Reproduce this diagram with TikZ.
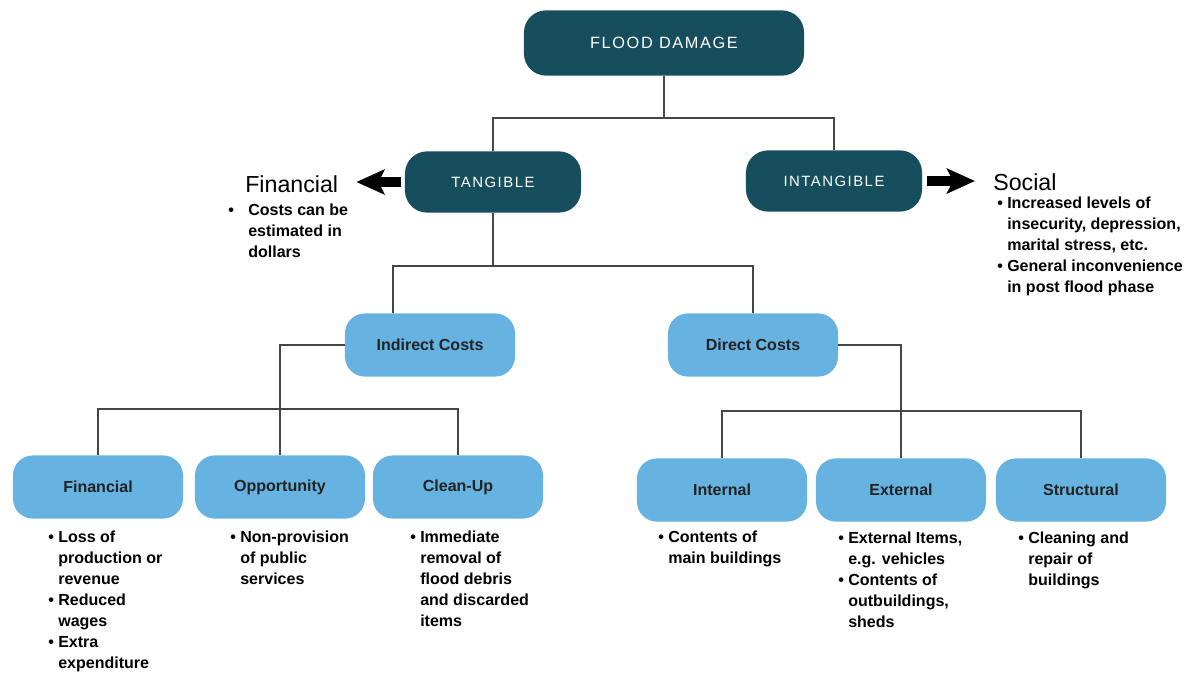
\documentclass[tikz,border=0pt]{standalone}
\usepackage{fontspec}
\setmainfont{Liberation Sans}
\newfontfamily\spacedcaps[LetterSpace=10]{Liberation Sans}
\usepackage{tikz}
\usetikzlibrary{arrows.meta, positioning}
\definecolor{darkteal}{RGB}{22, 78, 94}
\definecolor{skyblue}{RGB}{102, 178, 225}
\definecolor{linkgray}{RGB}{70, 70, 70}
\definecolor{labelgray}{RGB}{35, 35, 35}
\newcommand{\bitem}[1][0.25cm]{\makebox[#1][l]{\textbullet}}
\newcommand{\bhang}[1][0.25cm]{\hspace*{#1}}
\tikzset{
  link/.style={draw=linkgray, line width=1.1pt},
  blockarrow/.style={-{Stealth[length=0.7cm, width=0.62cm, inset=0.15cm]}, line width=0.25cm, black}
}
\tikzset{
  topbox/.style={rectangle, rounded corners=0.55cm, fill=darkteal, text=white, minimum width=4.4cm, minimum height=1.53cm, font=\spacedcaps\fontsize{10.6pt}{12pt}\selectfont},
  costbox/.style={rectangle, rounded corners=0.5cm, fill=skyblue, text=labelgray, minimum width=4.25cm, minimum height=1.58cm, font=\bfseries\fontsize{11.4pt}{13pt}\selectfont},
  bullets/.style={anchor=north west, inner sep=0pt, align=left, font=\bfseries\fontsize{11.4pt}{14.9pt}\selectfont},
  heading/.style={anchor=base west, inner sep=0pt, font=\fontsize{16.5pt}{20pt}\selectfont}
}
\begin{document}
\begin{tikzpicture}[x=0.025cm, y=-0.025cm]
    \useasboundingbox (0,0) rectangle (1193,673);

    % Top level boxes
    \node[topbox, minimum width=7cm, minimum height=1.63cm, font=\spacedcaps\fontsize{11.6pt}{13pt}\selectfont] (flood) at (664,43) {FLOOD DAMAGE};
    \node[topbox] (tangible) at (493,182) {TANGIBLE};
    \node[topbox] (intangible) at (834,181) {INTANGIBLE};

    % Cost boxes
    \node[costbox] (indirect) at (430,345) {Indirect Costs};
    \node[costbox] (direct) at (753,345) {Direct Costs};

    \node[costbox] (financial) at (98,487) {Financial};
    \node[costbox] (opportunity) at (280,487) {Opportunity};
    \node[costbox] (cleanup) at (458,487) {Clean-Up};

    \node[costbox] (internal) at (722,490) {Internal};
    \node[costbox] (external) at (901,490) {External};
    \node[costbox] (structural) at (1081,490) {Structural};

    % Connectors
    \coordinate (busA) at (664,118);
    \draw[link] (flood.south) -- (busA);
    \draw[link] (tangible.north) |- (busA) -| (intangible.north);

    \coordinate (busB) at (493,266);
    \draw[link] (tangible.south) -- (busB);
    \draw[link] ([xshift=-0.925cm]indirect.north) |- (busB) -| (direct.north);

    \coordinate (busC) at (280,409);
    \draw[link] (indirect.west) -| (opportunity.north);
    \draw[link] (financial.north) |- (busC) -| (cleanup.north);

    \coordinate (busD) at (901,411);
    \draw[link] (direct.east) -| (external.north);
    \draw[link] (internal.north) |- (busD) -| (structural.north);

    % Side headings and arrows
    \node[heading] (finhead) at (245,192) {Financial};
    \node[heading] (socialhead) at (993,190) {Social};
    \draw[blockarrow, shorten <=0.08cm, shorten >=0.45cm] (tangible.west) -- (finhead.east |- tangible.west);
    \draw[blockarrow, shorten <=0.12cm, shorten >=0.45cm] (intangible.east) -- (socialhead.west |- intangible.east);

    % Notes
    \node[bullets] (finnote) at (228,204) {\bitem[0.5cm]Costs can be\\\bhang[0.5cm]estimated in\\\bhang[0.5cm]dollars};
    \node[bullets] (socialnote) at (997,197) {\bitem Increased levels of\\\bhang insecurity, depression,\\\bhang marital stress, etc.\\\bitem General inconvenience\\\bhang in post flood phase};

    \node[bullets] (finlist) at (48,531) {\bitem Loss of\\\bhang production or\\\bhang revenue\\\bitem Reduced\\\bhang wages\\\bitem Extra\\\bhang expenditure};
    \node[bullets] (opplist) at (230,531) {\bitem Non-provision\\\bhang of public\\\bhang services};
    \node[bullets] (cleanlist) at (410,531) {\bitem Immediate\\\bhang removal of\\\bhang flood debris\\\bhang and discarded\\\bhang items};

    \node[bullets] (intlist) at (658,531) {\bitem Contents of\\\bhang main buildings};
    \node[bullets] (extlist) at (838,532) {\bitem External Items,\\\bhang e.g. vehicles\\\bitem Contents of\\\bhang outbuildings,\\\bhang sheds};
    \node[bullets] (strlist) at (1018,532) {\bitem Cleaning and\\\bhang repair of\\\bhang buildings};
\end{tikzpicture}
\end{document}
